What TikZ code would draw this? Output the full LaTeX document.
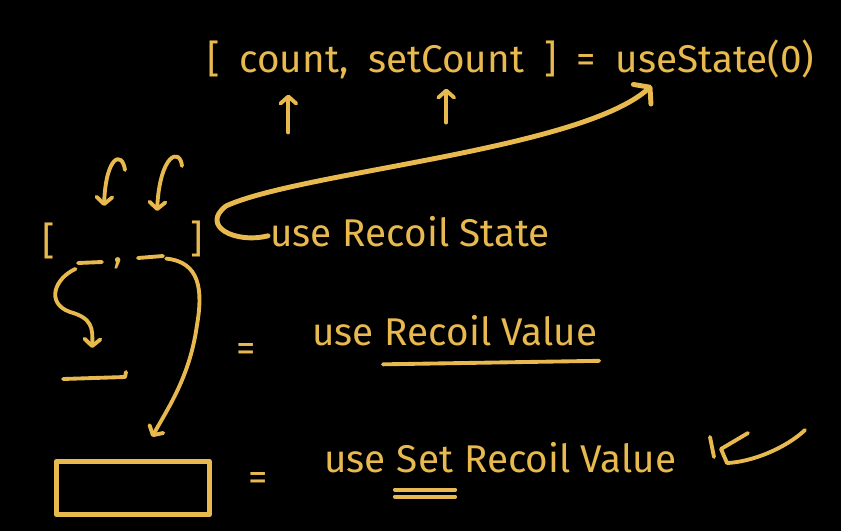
\documentclass[tikz,border=0pt]{standalone}
\usepackage{fontspec}
\setmainfont{Fira Sans}
\usetikzlibrary{arrows.meta,calc,positioning}
\definecolor{chalk}{HTML}{E8B94E}
\definecolor{board}{HTML}{000000}
\tikzset{
  pen/.style={draw=chalk,line width=2.2pt,line cap=round,line join=round},
  arr/.style={pen,-{Straight Barb[round,length=4pt,width=9pt]}},
  bigarr/.style={pen,line width=2.8pt,-{Straight Barb[round,length=6pt,width=15pt]}},
  word/.style={text=chalk,font=\fontsize{22}{26}\selectfont,inner sep=1pt},
}

\begin{document}
\begin{tikzpicture}[x=0.02cm,y=-0.02cm,node distance=9pt]
\fill[board] (0,0) rectangle (841,531);

% hook line
\node[word,anchor=base west] (lbA) at (205,72) {[};
\node[word,base right=of lbA] (cnt) {count,};
\node[word,base right=of cnt] (setcnt) {setCount};
\node[word,base right=of setcnt] (rbA) {]};
\node[word,base right=of rbA] (eqA) {=};
\node[word,base right=of eqA] (ustate) {useState(0)};

\path ($(cnt.south west)!0.45!(cnt.south east)$) coordinate (cntIn) ++(0,52) coordinate (cntTail);
\path ($(setcnt.south west)!0.5!(setcnt.south east)$) coordinate (setIn) ++(0,48) coordinate (setTail);
\draw[arr,shorten >=8pt] (cntTail) -- (cntIn);
\draw[arr,shorten >=8pt] (setTail) -- (setIn);

% recoil tuple
\node[word,anchor=base west] (lbB) at (40,254) {[};
\node[word,anchor=base west] (rbB) at (188,252) {]};
\node[word,anchor=base west] (comma) at (111,262) {,};
\draw[pen] (78,263) -- coordinate (blank1) (102,262);
\draw[pen] (138,258) -- coordinate (blank2) (163,256);

\coordinate (hookA) at (125,170);
\coordinate (dropA) at (104,206);
\coordinate (hookB) at (182,166);
\coordinate (dropB) at (157,211);
\draw[arr] (hookA) .. controls (122,150) and (106,156) .. (dropA);
\draw[arr] (hookB) .. controls (180,147) and (160,154) .. (dropB);

\node[word,anchor=base west] (useA) at (268,246) {use};
\node[word,base right=4pt of useA] (recstate) {Recoil State};
\path ($(ustate.south west)!0.22!(ustate.south east)$) coordinate (ustIn);
\draw[bigarr,shorten >=5pt] (useA.west) .. controls (235,244) and (200,226) .. (226,206)
  .. controls (300,172) and (580,150) .. (ustIn);

% value
\draw[pen] (63,379) -- coordinate (slot) (125,377) -- (126,372);
\path (slot) ++(-2,-30) coordinate (slotIn);
\draw[arr,shorten <=9pt] (blank1) .. controls (55,278) and (45,303) .. (70,312)
  .. controls (92,318) and (93,328) .. (slotIn);
\node[word,anchor=base west] (eqB) at (234,361) {=};
\node[word,anchor=base west] (useB) at (310,345) {use};
\node[word,base right=4pt of useB] (recval) {Recoil Value};
\draw[pen] ([yshift=-11pt]recval.base west) -- ([yshift=-9pt]recval.base east);

% setter
\node[pen,line width=3pt,minimum width=3.06cm,minimum height=1.06cm] (box) at (133,488) {};
\path ($(box.north west)!0.62!(box.north east)$) ++(0,-22) coordinate (boxIn);
\draw[arr,shorten <=9pt] (blank2) .. controls (200,262) and (203,290) .. (197,325)
  .. controls (190,375) and (170,405) .. (boxIn);
\node[word,anchor=base west] (eqC) at (246,490) {=};
\node[word,anchor=base west] (useC) at (322,472) {use};
\node[word,base right=4pt of useC] (setC) {Set};
\node[word,base right=4pt of setC] (recvalC) {Recoil Value};
\draw[pen] ([yshift=-10pt]setC.base west) -- ([yshift=-10pt]setC.base east);
\draw[pen] ([yshift=-14pt]setC.base west) -- ([yshift=-14pt]setC.base east);

\draw[pen] (710,437) -- (714,457);
\draw[pen] (748,433) -- (721,449) -- (727,463) .. controls (752,462) and (786,448) .. (805,430);
\end{tikzpicture}
\end{document}
